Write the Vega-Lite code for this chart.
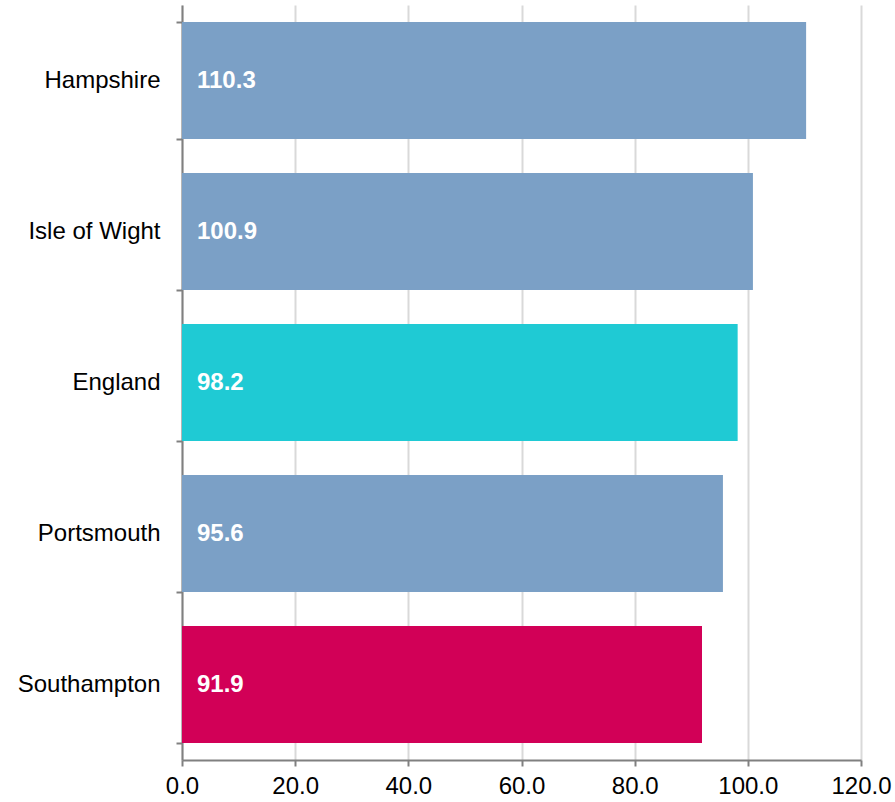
{
  "$schema": "https://vega.github.io/schema/vega-lite/v6.json",
  "width": 679,
  "height": 755,
  "autosize": {"type": "none"},
  "padding": {"left": 182, "top": 5, "right": 34, "bottom": 42},
  "background": "white",
  "config": {"view": {"stroke": null}, "font": "Liberation Sans"},
  "data": {
    "values": [
      {"area": "Hampshire", "value": 110.3, "group": "other"},
      {"area": "Isle of Wight", "value": 100.9, "group": "other"},
      {"area": "England", "value": 98.2, "group": "England"},
      {"area": "Portsmouth", "value": 95.6, "group": "other"},
      {"area": "Southampton", "value": 91.9, "group": "Southampton"}
    ]
  },
  "encoding": {
    "y": {
      "field": "area",
      "type": "nominal",
      "sort": null,
      "scale": {"paddingInner": 0.225, "paddingOuter": 0.1125},
      "axis": {
        "title": null,
        "tickBand": "extent",
        "tickSize": 6,
        "tickColor": "#808080",
        "tickWidth": 2,
        "domainColor": "#808080",
        "domainWidth": 2,
        "labelFontSize": 24,
        "labelColor": "#000000",
        "labelPadding": 16,
        "labelLimit": 300,
        "grid": false
      }
    }
  },
  "layer": [
    {
      "mark": {"type": "bar"},
      "encoding": {
        "x": {
          "field": "value",
          "type": "quantitative",
          "scale": {"domain": [0, 120], "nice": false},
          "axis": {
            "title": null,
            "values": [0, 20, 40, 60, 80, 100, 120],
            "format": ".1f",
            "labelFlush": false,
            "labelOverlap": false,
            "tickSize": 6,
            "tickColor": "#808080",
            "tickWidth": 2,
            "domainColor": "#808080",
            "domainWidth": 2,
            "labelFontSize": 24,
            "labelColor": "#000000",
            "labelPadding": 8,
            "gridColor": "#d9d9d9",
            "gridWidth": 2
          }
        },
        "color": {
          "field": "group",
          "type": "nominal",
          "scale": {"domain": ["other", "England", "Southampton"], "range": ["#7BA0C6", "#1FCAD4", "#D20057"]},
          "legend": null
        }
      }
    },
    {
      "mark": {"type": "text", "align": "left", "baseline": "middle", "dx": 15, "fontSize": 24, "fontWeight": "bold", "color": "white"},
      "encoding": {
        "x": {"datum": 0, "type": "quantitative"},
        "text": {"field": "value", "type": "quantitative", "format": ".1f"}
      }
    }
  ]
}
